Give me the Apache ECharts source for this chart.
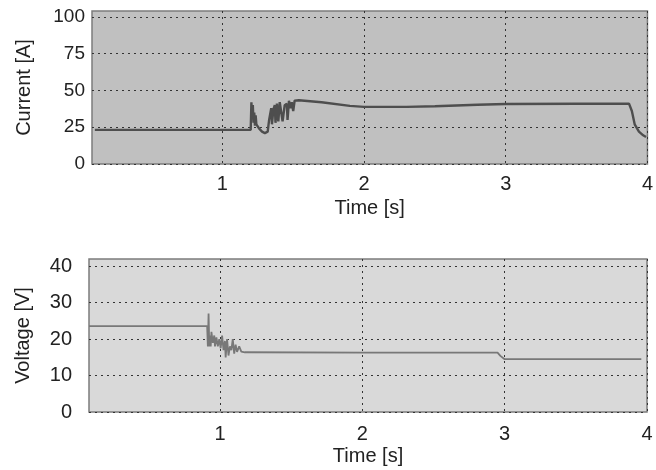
<!DOCTYPE html>
<html>
<head>
<meta charset="utf-8">
<script src="https://cdn.jsdelivr.net/npm/echarts@6/dist/echarts.min.js"></script>
<style>html,body{margin:0;padding:0;background:#fff}#c{width:656px;height:470px}</style>
</head>
<body>
<div id="c"></div>
<script>
// Current [A] vs time [s]
const currentTime = [0.10, 1.20, 1.205, 1.21, 1.215, 1.22, 1.225, 1.23, 1.235, 1.24, 1.25, 1.26, 1.27, 1.28, 1.30, 1.31, 1.32, 1.33, 1.345, 1.35, 1.36, 1.37, 1.375, 1.385, 1.395, 1.405, 1.415, 1.425, 1.435, 1.44, 1.455, 1.46, 1.47, 1.48, 1.49, 1.50, 1.51, 1.54, 1.7, 1.9, 2.0, 2.3, 2.5, 2.8, 3.0, 3.5, 3.87, 3.89, 3.91, 3.94, 3.97, 3.99];
const currentVal  = [23.2, 23.2, 42, 31, 40, 28, 35, 26, 33, 27, 27, 24, 25, 22, 21, 22, 22, 30, 38, 27, 37, 40, 28, 41, 29, 42, 42, 29, 30, 40, 41, 30, 43, 38, 42, 36, 43, 43.3, 42, 39.5, 38.8, 38.8, 39.3, 40.3, 40.8, 41, 41, 36, 27, 22, 19.5, 18.4];
// Voltage [V] vs time [s]
const voltageTime = [0.08, 0.91, 0.915, 0.92, 0.925, 0.93, 0.935, 0.94, 0.95, 0.96, 0.965, 0.975, 0.985, 0.995, 1.005, 1.015, 1.025, 1.035, 1.04, 1.05, 1.06, 1.07, 1.08, 1.09, 1.10, 1.11, 1.12, 1.135, 1.15, 1.175, 2.0, 2.5, 2.95, 2.97, 3.0, 3.5, 3.96];
const voltageVal  = [23.6, 23.6, 18, 27, 18, 21, 18, 22, 19, 21, 18, 20.5, 18, 20, 17.5, 21, 17, 19.5, 15, 20, 15.5, 18, 17, 20, 16, 18.5, 16.5, 18, 16.6, 16.4, 16.3, 16.3, 16.3, 15.4, 14.5, 14.5, 14.5];
const timeTicks = [1, 2, 3, 4];
const currentTicks = [0, 25, 50, 75, 100];
const voltageTicks = [0, 10, 20, 30, 40];

const zip = (a, b) => a.map((t, i) => [t, b[i]]);
const txt = '#222';
const font = 'Liberation Sans, Arial, Helvetica, sans-serif';
const dotted = { show: true, lineStyle: { color: '#333', type: [2, 4], width: 1 } };

function xAxis(gridIndex, labelMargin, nameGap) {
  return {
    type: 'value', gridIndex, min: 0.08, max: 4,
    name: 'Time [s]', nameLocation: 'middle', nameGap,
    nameTextStyle: { color: txt, fontSize: 20, fontFamily: font },
    axisLine: { show: false },
    axisTick: { show: false, customValues: timeTicks },
    axisLabel: { customValues: timeTicks, color: txt, fontSize: 20, fontFamily: font, margin: labelMargin },
    splitLine: dotted
  };
}
function yAxis(gridIndex, max, ticks, name, labelMargin, nameGap, labelSize) {
  return {
    type: 'value', gridIndex, min: 0, max,
    name, nameLocation: 'middle', nameGap,
    nameTextStyle: { color: txt, fontSize: 20, fontFamily: font },
    axisLine: { show: false },
    axisTick: { show: false, customValues: ticks },
    axisLabel: { customValues: ticks, color: txt, fontSize: labelSize, fontFamily: font, margin: labelMargin },
    splitLine: dotted
  };
}

const chart = echarts.init(document.getElementById('c'), null, { renderer: 'canvas' });
chart.setOption({
  animation: false,
  backgroundColor: '#fff',
  grid: [
    { left: 92, right: 7, top: 11, height: 153, show: true, backgroundColor: '#c0c0c0', borderColor: '#7c7c7c', borderWidth: 1.5 },
    { left: 89, right: 9, top: 259, height: 153, show: true, backgroundColor: '#d9d9d9', borderColor: '#7c7c7c', borderWidth: 1.5 }
  ],
  xAxis: [xAxis(0, 10, 34), xAxis(1, 12, 34)],
  yAxis: [
    yAxis(0, 104, currentTicks, 'Current [A]', 7, 58, 19),
    yAxis(1, 42, voltageTicks, 'Voltage [V]', 17, 56, 20)
  ],
  series: [
    { type: 'line', xAxisIndex: 0, yAxisIndex: 0, data: zip(currentTime, currentVal), showSymbol: false, lineStyle: { color: '#4e4e4e', width: 2.4 } },
    { type: 'line', xAxisIndex: 1, yAxisIndex: 1, data: zip(voltageTime, voltageVal), showSymbol: false, lineStyle: { color: '#787878', width: 1.8 } }
  ]
});
</script>
</body>
</html>
